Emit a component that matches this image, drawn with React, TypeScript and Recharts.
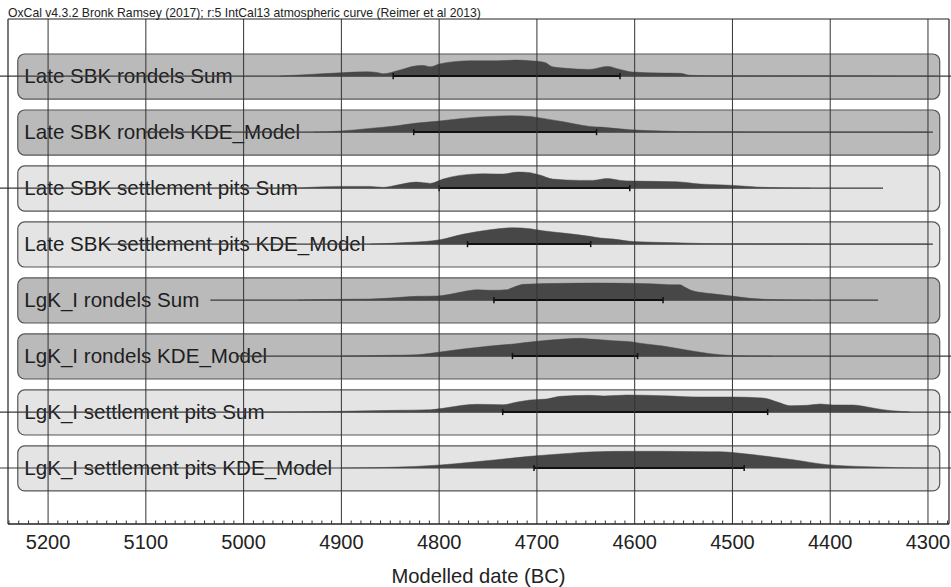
import React from "react";
import {
  ComposedChart,
  Area,
  XAxis,
  YAxis,
  ReferenceLine,
  ReferenceArea,
} from "recharts";

const FONT = "'Liberation Sans', Arial, sans-serif";

const title =
  "OxCal v4.3.2 Bronk Ramsey (2017); r:5 IntCal13 atmospheric curve (Reimer et al 2013)";

// one row per modelled group, top to bottom
const rowNames = [
  "Late SBK rondels Sum",
  "Late SBK rondels KDE_Model",
  "Late SBK settlement pits Sum",
  "Late SBK settlement pits KDE_Model",
  "LgK_I rondels Sum",
  "LgK_I rondels KDE_Model",
  "LgK_I settlement pits Sum",
  "LgK_I settlement pits KDE_Model",
];
const rowShade = ["dark", "dark", "light", "light", "dark", "dark", "light", "light"];

// [year BC, relative probability]
const lateSbkRondelsSum: [number, number][] = [
  [4963, 0], [4932, 1.7], [4901, 3.3], [4874, 4.3], [4864, 3.7], [4857, 2.3],
  [4843, 5.3], [4823, 10.3], [4816, 10.7], [4809, 9.3], [4800, 12], [4782, 14.7],
  [4768, 15.3], [4741, 15.3], [4720, 16], [4707, 15.3], [4692, 13.7], [4684, 9.3],
  [4673, 8], [4646, 6.7], [4628, 9.7], [4615, 6.7], [4602, 4], [4571, 3],
  [4554, 2.8], [4543, 0.8], [4523, 0.4], [4400, 0.3], [4330, 0.2], [4290, 0],
];
const lateSbkRondelsKde: [number, number][] = [
  [4929, 0], [4901, 1], [4871, 3.7], [4843, 6.3], [4823, 9], [4800, 11],
  [4776, 13.7], [4748, 15.7], [4724, 16.3], [4707, 15.7], [4700, 14.7], [4673, 10.3],
  [4646, 5.7], [4635, 5], [4605, 2.3], [4571, 1], [4533, 0.3], [4450, 0.1], [4300, 0],
];
const lateSbkPitsSum: [number, number][] = [
  [4945, 0], [4901, 1.7], [4871, 1.7], [4857, 0.7], [4843, 3], [4823, 6],
  [4809, 4.7], [4796, 9], [4779, 12.7], [4755, 14.3], [4735, 14], [4720, 16],
  [4710, 15.7], [4697, 13], [4684, 9], [4656, 7.7], [4643, 7.7], [4628, 9.5],
  [4615, 7.7], [4602, 7], [4557, 6.3], [4533, 4], [4499, 2.7], [4475, 1],
  [4451, 0.3], [4420, 0],
];
const lateSbkPitsKde: [number, number][] = [
  [4871, 0], [4830, 1.7], [4799, 4.3], [4776, 9.7], [4748, 14.3], [4724, 16.3],
  [4707, 15.3], [4694, 13.3], [4673, 11], [4646, 7.7], [4635, 6], [4622, 5],
  [4602, 2.5], [4557, 1.3], [4533, 0.6], [4499, 0.3], [4400, 0.1], [4300, 0],
];
const lgkRondelsSum: [number, number][] = [
  [4945, 0], [4901, 0.7], [4871, 1], [4850, 2], [4823, 3.7], [4802, 4],
  [4789, 5.7], [4776, 8.3], [4761, 10.3], [4748, 9.7], [4731, 10.3], [4724, 12.7],
  [4714, 15.7], [4673, 16.7], [4639, 17], [4605, 16.7], [4584, 16.3], [4561, 15.3],
  [4554, 15.3], [4548, 12.5], [4543, 10], [4533, 7.7], [4523, 6.5], [4503, 4.3],
  [4482, 1.7], [4451, 0.3], [4420, 0],
];
const lgkRondelsKde: [number, number][] = [
  [4901, 0], [4850, 0.7], [4823, 1.3], [4799, 4], [4776, 7], [4748, 10],
  [4724, 12], [4700, 14.7], [4673, 17], [4656, 17.7], [4646, 17], [4635, 16.3],
  [4622, 15.3], [4602, 14], [4598, 13.3], [4571, 10], [4550, 6.5], [4533, 3.8],
  [4513, 1.3], [4492, 0.3], [4460, 0],
];
const lgkPitsSum: [number, number][] = [
  [4980, 0], [4901, 0.7], [4843, 1.7], [4809, 2.3], [4796, 3.7], [4776, 6.7],
  [4761, 7.7], [4735, 7.3], [4720, 10], [4707, 12], [4690, 13], [4676, 15.7],
  [4646, 16.7], [4632, 16], [4608, 17], [4571, 16.3], [4533, 15], [4499, 15],
  [4469, 14], [4454, 10], [4441, 6.3], [4424, 6.7], [4410, 8], [4397, 7],
  [4377, 7], [4362, 5], [4346, 2.3], [4329, 0.7], [4318, 0],
];
const lgkPitsKde: [number, number][] = [
  [4901, 0], [4850, 0.7], [4799, 3], [4768, 5.7], [4741, 8.3], [4707, 11.7],
  [4673, 14.3], [4639, 16.3], [4605, 16.7], [4571, 16.7], [4523, 16.3], [4513, 16.3],
  [4492, 14.7], [4465, 11.7], [4438, 8.3], [4403, 3.3], [4362, 1.3], [4329, 0.3],
  [4300, 0],
];
const densities = [
  lateSbkRondelsSum,
  lateSbkRondelsKde,
  lateSbkPitsSum,
  lateSbkPitsKde,
  lgkRondelsSum,
  lgkRondelsKde,
  lgkPitsSum,
  lgkPitsKde,
];

// 95.4% ranges, [from, to] BC
const hpdRanges: [number, number][] = [
  [4847, 4615],
  [4826, 4639],
  [4800, 4605],
  [4771, 4645],
  [4744, 4571],
  [4725, 4597],
  [4735, 4464],
  [4703, 4488],
];
// extent of the thin line under each distribution
const lineExtents: [number, number][] = [
  [5255, 4275],
  [5100, 4295],
  [5255, 4346],
  [5144, 4295],
  [5034, 4351],
  [5008, 4275],
  [5255, 4275],
  [5255, 4275],
];

const majorTicks = [5200, 5100, 5000, 4900, 4800, 4700, 4600, 4500, 4400, 4300];
const allTicks: number[] = [];
for (let t = 5240; t >= 4280; t -= 10) allTicks.push(t);

const X_DOMAIN: [number, number] = [4278.5, 5241];
const Y_DOMAIN: [number, number] = [-1, 8.02];
const BOX_UP = 0.395;
const BOX_DOWN = 0.41;
const densityScale = 1 / 56;
const rowBase = (i: number) => rowNames.length - 1 - i;

const table = (() => {
  const byYear = new Map<number, Record<string, number>>();
  densities.forEach((pts, i) =>
    pts.forEach(([yr, d]) => {
      const rec = byYear.get(yr) ?? { year: yr };
      rec[`r${i}`] = rowBase(i) + d * densityScale;
      byYear.set(yr, rec);
    })
  );
  return [...byYear.values()].sort((a, b) => b.year - a.year);
})();

const DateTick = (p: any) => {
  const { x, y, payload } = p;
  const v = Number(payload?.value);
  const major = v % 100 === 0;
  return (
    <g>
      {!major && <line x1={x} x2={x} y1={y} y2={y - 3.5} stroke="#333" strokeWidth={1} />}
      {major && (
        <text x={x} y={y + 24.5} textAnchor="middle" fontSize={20} fontFamily={FONT} fill="#222">
          {v}
        </text>
      )}
    </g>
  );
};

// rounded row box with its name, drawn under the distribution lines
const RoundBox = (p: any) => {
  const midY = p.y + (p.height * BOX_UP) / (BOX_UP + BOX_DOWN);
  return (
    <g>
      <rect
        x={p.x}
        y={p.y}
        width={p.width}
        height={p.height}
        rx={7}
        ry={7}
        fill={p.fill}
        stroke="#555"
        strokeWidth={1.2}
      />
      <text
        x={p.x + 6.5}
        y={midY}
        dy="0.355em"
        fontSize={20.6}
        fontFamily={FONT}
        fill="#1e1e1e"
        stroke="none"
      >
        {p.name}
      </text>
    </g>
  );
};

export default function App() {
  return (
    <div style={{ position: "absolute", left: 0, top: 0, width: 951, height: 587, background: "#fff" }}>
      <div
        style={{
          position: "absolute",
          left: 8,
          top: 6.7,
          fontFamily: FONT,
          fontSize: 12.2,
          lineHeight: 1,
          color: "#222",
          whiteSpace: "nowrap",
        }}
      >
        {title}
      </div>
      <ComposedChart
        width={951}
        height={587}
        data={table}
        margin={{ top: 19, right: 2, left: 8, bottom: 0 }}
      >
        <XAxis
          dataKey="year"
          type="number"
          domain={X_DOMAIN}
          reversed
          allowDataOverflow
          ticks={allTicks}
          interval={0}
          tickLine={false}
          tickSize={0}
          tickMargin={0}
          height={63}
          axisLine={{ stroke: "#222", strokeWidth: 1.5 }}
          tick={<DateTick />}
          label={{
            value: "Modelled date (BC)",
            position: "insideBottom",
            offset: 4,
            fontSize: 20.2,
            fontFamily: FONT,
            fill: "#222",
          }}
        />
        <YAxis type="number" domain={Y_DOMAIN} allowDataOverflow hide />

        {rowNames.map((name, i) => (
          <ReferenceArea
            key={`box-${i}`}
            x1={5231}
            x2={4288}
            y1={rowBase(i) - BOX_DOWN}
            y2={rowBase(i) + BOX_UP}
            fill={rowShade[i] === "dark" ? "#bababa" : "#e4e4e4"}
            fillOpacity={1}
            zIndex={0}
            shape={<RoundBox name={name} />}
          />
        ))}

        {lineExtents.map(([a, b], i) => (
          <ReferenceLine
            key={`base-${i}`}
            segment={[
              { x: a, y: rowBase(i) },
              { x: b, y: rowBase(i) },
            ]}
            ifOverflow="visible"
            stroke="#3a3a3a"
            strokeWidth={1.2}
            zIndex={50}
          />
        ))}

        {rowNames.map((_, i) => (
          <Area
            key={`dens-${i}`}
            dataKey={`r${i}`}
            type="monotone"
            baseValue={rowBase(i)}
            connectNulls
            stroke="#474747"
            strokeWidth={0.5}
            fill="#474747"
            fillOpacity={1}
            dot={false}
            activeDot={false}
            isAnimationActive={false}
          />
        ))}

        {hpdRanges.map(([a, b], i) => (
          <ReferenceLine
            key={`hpd-${i}`}
            segment={[
              { x: a, y: rowBase(i) },
              { x: b, y: rowBase(i) },
            ]}
            stroke="#111"
            strokeWidth={2}
            zIndex={300}
          />
        ))}
        {hpdRanges.flatMap(([a, b], i) =>
          [a, b].map((yr, j) => (
            <ReferenceLine
              key={`hpdend-${i}-${j}`}
              segment={[
                { x: yr, y: rowBase(i) - 0.055 },
                { x: yr, y: rowBase(i) + 0.055 },
              ]}
              stroke="#111"
              strokeWidth={1.5}
              zIndex={300}
            />
          ))
        )}

        {majorTicks.map((t) => (
          <ReferenceLine key={`grid-${t}`} x={t} stroke="#333" strokeWidth={1} zIndex={450} />
        ))}

        <ReferenceLine x={X_DOMAIN[1]} stroke="#222" strokeWidth={1.2} zIndex={450} />
        <ReferenceLine x={X_DOMAIN[0]} stroke="#222" strokeWidth={1.2} zIndex={450} />
        <ReferenceLine y={Y_DOMAIN[1]} stroke="#222" strokeWidth={1.2} zIndex={450} />
      </ComposedChart>
    </div>
  );
}
